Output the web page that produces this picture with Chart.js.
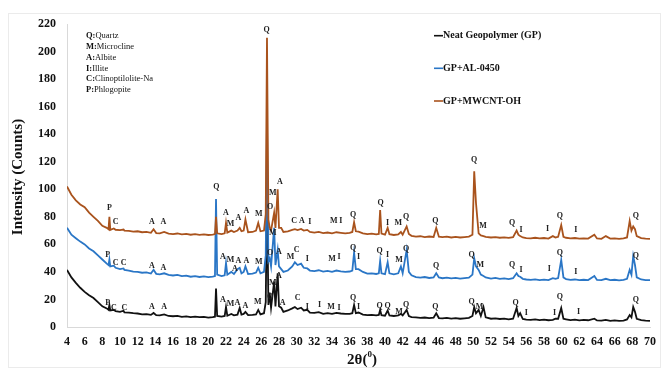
<!DOCTYPE html>
<html>
<head>
<meta charset="utf-8">
<script src="https://cdn.jsdelivr.net/npm/chart.js@4.4.1/dist/chart.umd.min.js"></script>
<style>
  html, body { margin: 0; padding: 0; background: #fff; }
  #wrap { width: 664px; height: 370px; }
</style>
</head>
<body>
<div id="wrap"><canvas id="xrd"></canvas></div>
<script>
// 2-theta (deg) / intensity (counts)
const neatGP = [
  [4,41.5],[4.5,36],[5,32],[5.5,28.5],[6,25.5],[6.5,23],[7,21],[7.5,18],[8,15],[8.5,13.5],[8.7,12.5],[8.8,16],[8.9,12],
  [9.3,12.5],[9.5,11.5],[10,11],[10.4,11.8],[10.5,10.6],[11,10.5],[11.5,10],[12,9.8],[12.5,9.2],[13,9.4],[13.5,8.8],
  [13.8,10.2],[14.1,8.6],[14.5,8.4],[15,9.2],[15.5,8],[16,7.8],[16.5,8.1],[17,7.4],[17.5,7.7],[18,7.2],[18.5,7.5],
  [19,7.1],[19.5,7.3],[20,6.8],[20.5,7.2],[20.75,7.5],[20.87,28],[21,8],[21.5,7.6],[21.85,8],[22,14.5],[22.15,8.2],
  [22.6,9.5],[22.9,8.5],[23.3,9],[23.55,13.8],[23.75,9],[24,9.5],[24.2,11],[24.5,8.6],[25,8.8],[25.4,9.2],[25.65,12.4],
  [25.9,9.2],[26.3,10],[26.5,18],[26.64,100],[26.8,16],[26.95,25],[27.1,14],[27.45,33],[27.6,15],[27.85,39],[28,15],
  [28.25,14],[28.5,11],[29,12],[29.5,13.5],[29.8,14.5],[30.1,13],[30.5,14],[30.8,12],[31.2,12.5],[31.5,10.5],[32,10.2],
  [32.5,10.8],[33,9.6],[33.5,10],[34,9.5],[34.5,10.2],[35,9.8],[35.5,9.5],[36,9.6],[36.3,10],[36.5,16],[36.7,10],[37,10.5],
  [37.5,9],[38,8.6],[38.5,8.8],[39,8.4],[39.3,8.8],[39.45,12.4],[39.6,8.6],[40,8.2],[40.3,12],[40.5,8.4],[41,8],[41.5,8.5],
  [41.8,9.5],[42,8.4],[42.45,12.4],[42.7,8],[43,7.2],[43.5,7],[44,6.6],[44.5,6.9],[45,6.4],[45.5,6.8],[45.8,10],[46.1,6.5],
  [46.5,6.2],[47,6.6],[47.5,6.1],[48,6.4],[48.5,6],[49,6.3],[49.5,6.6],[49.9,8],[50.1,14.5],[50.3,10],[50.6,12.4],[50.85,8],
  [51.15,14.5],[51.4,7],[52,6],[52.5,6.3],[53,5.8],[53.5,6.1],[54,5.6],[54.5,6],[54.9,13.8],[55.1,8],[55.3,10],[55.6,5.8],
  [56,5.4],[56.5,5.2],[57,5.5],[57.5,5],[58,5.3],[58.5,4.9],[59,5.2],[59.3,6],[59.6,6],[59.95,13.8],[60.2,6],[60.5,5.6],
  [61,5],[61.5,5.3],[62,4.8],[62.5,5.1],[63,4.9],[63.7,6],[64,4.8],[64.5,4.6],[65,5.2],[65.5,4.5],[66,4.8],[66.5,4.4],
  [67,4.7],[67.4,5.5],[67.7,8.7],[67.9,7],[68.1,14.5],[68.3,11],[68.5,6],[69,5],[69.5,4.7],[70,4.5]
];

const gpAL0450 = [
  [4,72],[4.5,67],[5,64.5],[5.5,62],[6,60],[6.5,57],[7,55],[7.5,52],[8,49],[8.5,46],[8.7,45],[8.8,49],[8.9,44],
  [9.3,44.5],[9.5,43],[10,42],[10.4,42.5],[10.5,41.4],[11,41],[11.5,40.2],[12,40],[12.5,39.4],[13,39.6],[13.5,38.8],
  [13.8,41.5],[14.1,38.6],[14.5,38.2],[15,39],[15.5,37.8],[16,37.4],[16.5,37.8],[17,37],[17.5,37.3],[18,36.5],[18.5,36.9],
  [19,36.3],[19.5,36.7],[20,36.2],[20.5,36.6],[20.75,37],[20.87,93],[21,38],[21.5,37],[21.85,37.5],[22,46.5],[22.15,38],
  [22.6,40],[22.9,38.5],[23.3,42],[23.55,43],[23.75,39],[24,40],[24.2,44],[24.5,38.5],[25,38.8],[25.4,39.5],[25.65,43],
  [25.9,39],[26.3,40],[26.5,52],[26.64,150],[26.8,48],[26.95,50],[27.1,44],[27.45,72],[27.6,45],[27.85,56],[28,44],
  [28.25,42],[28.5,40],[29,41],[29.5,44],[29.8,47],[30.1,45],[30.5,46],[30.8,43],[31.2,42.5],[31.5,41],[32,40.6],
  [32.5,41.2],[33,40.2],[33.5,40.8],[34,40],[34.5,41],[35,40.4],[35.5,40],[36,40.3],[36.3,41],[36.5,54],[36.7,42],[37,42],
  [37.5,40],[38,38.8],[38.5,39],[39,38.5],[39.3,39],[39.45,48],[39.6,39],[40,38.4],[40.3,47],[40.5,39],[41,38.2],[41.5,39],
  [41.8,44],[42,39],[42.45,56],[42.7,40],[43,37.5],[43.5,36.2],[44,35.8],[44.5,36.3],[45,35.6],[45.5,36],[45.8,39],[46.1,36],
  [46.5,35.4],[47,35.9],[47.5,35.3],[48,35.6],[48.5,35.1],[49,35.5],[49.5,35.8],[49.9,38],[50.1,50],[50.3,44],[50.6,41.5],
  [50.85,38],[51.15,37],[51.4,36],[52,35.2],[52.5,35.6],[53,35],[53.5,35.3],[54,34.8],[54.5,35.4],[54.9,39],[55.1,37],
  [55.3,36.5],[55.6,35],[56,34.5],[56.5,34.2],[57,34.6],[57.5,34.1],[58,34.4],[58.5,34],[59,35.5],[59.3,35],[59.6,35.5],
  [59.95,48.7],[60.2,36],[60.5,34.8],[61,34.2],[61.5,34.5],[62,34],[62.5,34.3],[63,34.1],[63.7,37],[64,34.2],[64.5,34],
  [65,35],[65.5,34],[66,34.3],[66.5,33.9],[67,34.2],[67.4,35],[67.7,41.5],[67.9,38],[68.1,51.6],[68.3,45],[68.5,36],
  [69,34.5],[69.5,34.1],[70,34]
];

const gpMWCNT = [
  [4,102],[4.5,96],[5,92],[5.5,89],[6,87],[6.5,83],[7,80],[7.5,77],[8,73.5],[8.5,72],[8.7,71],[8.8,80],[8.9,70.5],
  [9.3,71.5],[9.5,70.6],[10,70.4],[10.4,70.8],[10.5,70],[11,69.8],[11.5,69.3],[12,69.5],[12.5,68.8],[13,69],[13.5,68.4],
  [13.8,71],[14.1,68.2],[14.5,68],[15,69],[15.5,67.8],[16,67.5],[16.5,67.9],[17,67.3],[17.5,67.6],[18,67],[18.5,67.4],
  [19,66.9],[19.5,67.2],[20,66.8],[20.5,67.1],[20.75,67.5],[20.87,80],[21,68],[21.5,67.5],[21.85,68],[22,75.6],[22.15,68.5],
  [22.6,70],[22.9,69],[23.3,70],[23.55,72],[23.75,69.5],[24,70],[24.2,78],[24.5,68.8],[25,69],[25.4,70],[25.65,75.6],
  [25.9,69.5],[26.3,70],[26.5,82],[26.64,210],[26.8,78],[26.95,72],[27.1,70],[27.45,83],[27.6,72],[27.85,100],[28,72],
  [28.25,72],[28.5,69],[29,69.5],[29.5,70.5],[29.8,71],[30.1,70.4],[30.5,71.2],[30.8,70],[31.2,70.5],[31.5,69],[32,68.5],
  [32.5,69],[33,68.2],[33.5,68.6],[34,68],[34.5,68.8],[35,68.4],[35.5,68],[36,68.3],[36.3,69],[36.5,76],[36.7,69.5],
  [37,69.2],[37.5,68],[38,67.4],[38.5,67.8],[39,67.2],[39.3,67.6],[39.45,85],[39.6,67.8],[40,67],[40.3,72],[40.5,67.4],
  [41,66.8],[41.5,67.2],[41.8,69],[42,67],[42.45,73],[42.7,67.5],[43,66.2],[43.5,65.6],[44,65.9],[44.5,65.3],[45,65.7],
  [45.5,65.4],[45.8,72],[46.1,65.6],[46.5,65.2],[47,65.6],[47.5,65],[48,65.4],[48.5,65],[49,65.3],[49.5,65.6],[49.9,67],
  [50.1,113],[50.3,90],[50.6,68],[50.85,66.5],[51.15,66],[51.4,65.5],[52,65],[52.5,65.3],[53,64.8],[53.5,65.1],[54,64.7],
  [54.5,65.2],[54.9,70],[55.1,67],[55.3,66],[55.6,65],[56,64.6],[56.5,64.4],[57,64.8],[57.5,64.3],[58,64.6],[58.5,64.2],
  [59,66],[59.3,65],[59.6,65.5],[59.95,74],[60.2,65.5],[60.5,64.8],[61,64.3],[61.5,64.6],[62,64.1],[62.5,64.4],[63,64.2],
  [63.7,67],[64,64.3],[64.5,64],[65,66],[65.5,64.2],[66,64.4],[66.5,64],[67,64.3],[67.4,65],[67.7,77],[67.9,70],[68.1,73],
  [68.3,71],[68.5,66],[69,64.5],[69.5,64.2],[70,64]
];

const seriesNames = ['Neat Geopolymer (GP)', 'GP+AL-0450', 'GP+MWCNT-OH'];
const seriesColors = ['#111111', '#2a76c6', '#a9531d'];
const phaseKey = [['Q', 'Quartz'], ['M', 'Microcline'], ['A', 'Albite'], ['I', 'Illite'], ['C', 'Clinoptilolite-Na'], ['P', 'Phlogopite']];

// [2theta, counts at label centre, phase letter]
const peakTags = [
  [8.8,86.5,'P'],[9.5,76,'C'],[13.6,76,'A'],[14.9,76,'A'],[22.0,83,'A'],[22.5,75,'M'],[23.4,79,'A'],[24.3,84,'A'],
  [25.7,82,'M'],[26.6,216,'Q'],[27.0,87,'O'],[27.3,97,'M'],[28.1,105,'A'],[29.7,77,'C'],[30.6,77,'A'],[31.5,76,'I'],
  [34.2,77,'M'],[35.0,77,'I'],[36.4,81.5,'Q'],[39.5,90,'Q'],[40.3,75.6,'I'],[41.5,75.6,'M'],[42.4,80,'Q'],[45.7,77,'Q'],
  [50.1,121,'Q'],[51.1,73.5,'M'],[54.4,75.6,'Q'],[55.4,70.5,'I'],[58.4,71,'I'],[59.8,80.7,'Q'],[61.6,70.5,'I'],[68.4,80.7,'Q'],
  [8.6,52,'P'],[9.5,46.5,'C'],[10.4,46.5,'C'],[13.6,44,'A'],[14.9,43,'A'],[20.9,102,'Q'],[21.65,51,'A'],[22.5,48.7,'M'],
  [23.0,42,'A'],[23.4,48,'A'],[24.3,48,'A'],[25.7,47,'M'],[27.0,54,'O'],[27.3,68,'M'],[28.0,54.5,'A'],[29.3,51,'M'],
  [30.0,56,'C'],[31.2,49.5,'I'],[34.0,49.5,'M'],[34.8,51,'I'],[36.4,57.5,'Q'],[37.0,51,'I'],[39.4,55,'Q'],[40.3,52,'I'],
  [41.6,49,'M'],[42.4,57,'Q'],[45.8,44,'Q'],[49.8,52,'Q'],[50.8,45,'M'],[54.4,45,'Q'],[55.4,41.5,'I'],[58.6,42,'I'],
  [59.8,54,'Q'],[61.6,40,'I'],[68.4,51.6,'Q'],
  [8.6,17.5,'P'],[9.3,13.8,'C'],[10.5,13.8,'C'],[13.6,14.5,'A'],[15.0,14.5,'A'],[21.65,19.6,'A'],[22.5,16.7,'M'],
  [23.3,17.5,'A'],[24.2,15.3,'A'],[25.6,18,'M'],[27.0,22,'O'],[27.3,32,'M'],[28.0,37,'A'],[28.4,17.5,'A'],[30.1,21,'C'],
  [31.2,14.5,'I'],[32.6,16,'I'],[33.9,14.5,'M'],[34.8,13.8,'I'],[36.4,21,'Q'],[37.0,14.5,'I'],[39.4,15.3,'Q'],[40.3,15.3,'Q'],
  [41.6,11,'M'],[42.4,16,'Q'],[45.7,14.5,'Q'],[49.8,18,'Q'],[50.7,14.5,'M'],[54.8,17.5,'Q'],[56.0,10,'I'],[59.2,10,'I'],
  [59.8,22,'Q'],[61.9,11,'I'],[68.4,20,'Q']
];

const serif = '"Liberation Serif", "Times New Roman", serif';

const annotate = {
  id: 'annotate',
  beforeDraw(chart) {
    const ctx = chart.ctx;
    ctx.save();
    ctx.fillStyle = '#fff';
    ctx.fillRect(0, 0, chart.width, chart.height);
    ctx.strokeStyle = '#ebebeb';
    ctx.lineWidth = 1;
    ctx.strokeRect(8.5, 13.5, 652, 354);
    ctx.restore();
  },
  afterDraw(chart) {
    const { ctx, scales: { x, y } } = chart;
    ctx.save();
    ctx.fillStyle = '#222';
    ctx.textAlign = 'center';
    ctx.textBaseline = 'middle';
    ctx.font = `bold 8px ${serif}`;
    peakTags.forEach(([t, v, s]) => ctx.fillText(s, x.getPixelForValue(t), y.getPixelForValue(v)));

    // phase key
    ctx.textAlign = 'left';
    phaseKey.forEach(([k, name], i) => {
      const ty = 36 + i * 10.8;
      ctx.font = `bold 8.5px ${serif}`;
      ctx.fillStyle = '#111';
      ctx.fillText(k + ':', 86, ty);
      const w = ctx.measureText(k + ':').width;
      ctx.font = `8.5px ${serif}`;
      ctx.fillText(name, 86 + w, ty);
    });

    // legend
    ctx.font = `bold 10px ${serif}`;
    [35.7, 68.3, 101].forEach((ly, i) => {
      ctx.strokeStyle = seriesColors[i];
      ctx.lineWidth = 1.6;
      ctx.beginPath();
      ctx.moveTo(434, ly);
      ctx.lineTo(443, ly);
      ctx.stroke();
      ctx.fillStyle = '#111';
      ctx.fillText(seriesNames[i], 443, ly);
    });

    // axis titles
    ctx.fillStyle = '#111';
    ctx.font = `bold 15px ${serif}`;
    ctx.save();
    ctx.translate(18, 177);
    ctx.rotate(-Math.PI / 2);
    ctx.textAlign = 'center';
    ctx.fillText('Intensity (Counts)', 0, 0);
    ctx.restore();

    ctx.font = `bold 15px ${serif}`;
    const a = '2θ(', b = ')';
    const wa = ctx.measureText(a).width, wb = ctx.measureText(b).width;
    ctx.font = `bold 9px ${serif}`;
    const w0 = ctx.measureText('0').width;
    let tx = 362 - (wa + w0 + wb) / 2;
    ctx.font = `bold 15px ${serif}`;
    ctx.fillText(a, tx, 360);
    ctx.font = `bold 9px ${serif}`;
    ctx.fillText('0', tx + wa, 355);
    ctx.font = `bold 15px ${serif}`;
    ctx.fillText(b, tx + wa + w0, 360);
    ctx.restore();
  }
};

function makeSet(points, i, order) {
  return {
    label: seriesNames[i],
    data: points.map(([t, c]) => ({ x: t, y: c })),
    borderColor: seriesColors[i],
    borderWidth: 1.8,
    pointRadius: 0,
    tension: 0,
    order
  };
}

new Chart(document.getElementById('xrd'), {
  type: 'line',
  data: {
    datasets: [makeSet(neatGP, 0, 3), makeSet(gpAL0450, 1, 2), makeSet(gpMWCNT, 2, 1)]
  },
  options: {
    responsive: true,
    maintainAspectRatio: false,
    animation: false,
    layout: { padding: { left: 0, right: 7, top: 24, bottom: 0 } },
    plugins: { legend: { display: false }, tooltip: { enabled: false } },
    scales: {
      x: {
        type: 'linear',
        min: 4, max: 70,
        grid: { display: false, drawTicks: false },
        border: { color: '#d9d9d9' },
        ticks: { stepSize: 2, padding: 8, color: '#111', font: { family: serif, size: 12, weight: 'bold' }, maxRotation: 0, autoSkip: false },
        afterFit(s) { s.height = 43; }
      },
      y: {
        min: 0, max: 220,
        grid: { display: false, drawTicks: false },
        border: { color: '#d9d9d9' },
        ticks: { stepSize: 20, padding: 11, color: '#111', font: { family: serif, size: 12, weight: 'bold' } },
        afterFit(s) { s.width = 67; }
      }
    }
  },
  plugins: [annotate]
});
</script>
</body>
</html>
